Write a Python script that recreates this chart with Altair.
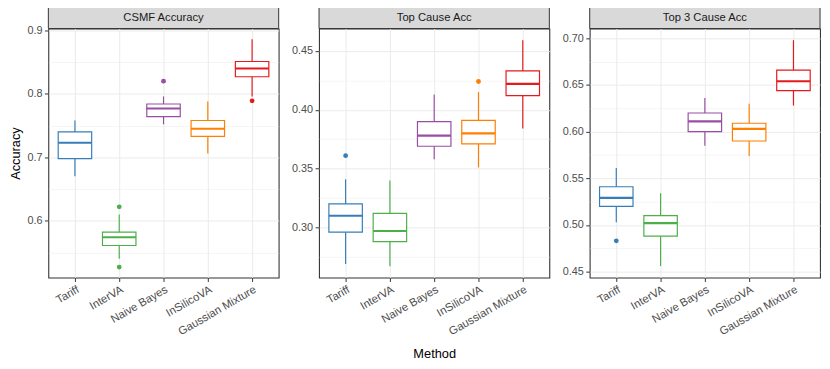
import altair as alt
import pandas as pd

methods = ["Tariff", "InterVA", "Naive Bayes", "InSilicoVA", "Gaussian Mixture"]
colors = ["#377EB8", "#4DAF4A", "#984EA3", "#FF7F00", "#E41A1C"]
panels = ["CSMF Accuracy", "Top Cause Acc", "Top 3 Cause Acc"]

# box statistics per panel, in method order
whisker_low = [
    [0.670, 0.540, 0.752, 0.706, 0.796],
    [0.269, 0.267, 0.358, 0.351, 0.384],
    [0.503, 0.456, 0.585, 0.574, 0.628],
]
q1 = [
    [0.698, 0.561, 0.764, 0.733, 0.827],
    [0.296, 0.288, 0.369, 0.371, 0.412],
    [0.520, 0.488, 0.600, 0.590, 0.644],
]
median = [
    [0.723, 0.574, 0.777, 0.745, 0.840],
    [0.310, 0.297, 0.378, 0.380, 0.422],
    [0.529, 0.502, 0.611, 0.603, 0.654],
]
q3 = [
    [0.740, 0.582, 0.784, 0.758, 0.851],
    [0.320, 0.312, 0.390, 0.391, 0.433],
    [0.541, 0.510, 0.620, 0.609, 0.666],
]
whisker_high = [
    [0.758, 0.610, 0.796, 0.788, 0.886],
    [0.341, 0.340, 0.413, 0.415, 0.459],
    [0.561, 0.534, 0.636, 0.630, 0.698],
]
outlier_method = [
    ["InterVA", "InterVA", "Naive Bayes", "Gaussian Mixture"],
    ["Tariff", "InSilicoVA"],
    ["Tariff"],
]
outlier_value = [
    [0.622, 0.527, 0.820, 0.789],
    [0.361, 0.424],
    [0.483],
]

y_domain = [[0.5105, 0.903], [0.2575, 0.469], [0.4437, 0.7105]]
y_ticks = [
    [0.55, 0.6, 0.65, 0.7, 0.75, 0.8, 0.85, 0.9],
    [0.275, 0.3, 0.325, 0.35, 0.375, 0.4, 0.425, 0.45],
    [0.45, 0.475, 0.5, 0.525, 0.55, 0.575, 0.6, 0.625, 0.65, 0.675, 0.7],
]
y_major_step = [0.1, 0.05, 0.05]
y_format = [".1f", ".2f", ".2f"]

W = 234
H = 253
STRIP = 22
BOX = 34


def panel_chart(i):
    df = pd.DataFrame({
        "Method": methods,
        "lo": whisker_low[i],
        "q1": q1[i],
        "med": median[i],
        "q3": q3[i],
        "hi": whisker_high[i],
    })
    odf = pd.DataFrame({"Method": outlier_method[i], "value": outlier_value[i]})

    step = y_major_step[i]
    is_major = f"abs(datum.value/{step} - round(datum.value/{step})) < 1e-6"
    yaxis = alt.Axis(
        values=y_ticks[i],
        labelExpr=f"({is_major}) ? format(datum.value, '{y_format[i]}') : ''",
        tickOpacity=alt.condition(is_major, alt.value(1), alt.value(0)),
        gridWidth=alt.condition(is_major, alt.value(1.0), alt.value(0.5)),
        title="Accuracy" if i == 0 else None,
        titlePadding=5,
    )
    yscale = alt.Scale(domain=y_domain[i], nice=False, zero=False)

    xaxis = alt.Axis(
        labelAngle=-30,
        labelAlign="right",
        labelBaseline="top",
        labelPadding=2,
        labelFontSize=11.5,
        grid=True,
        title="Method" if i == 1 else None,
        titlePadding=11,
    )
    x = alt.X("Method:N", sort=methods,
              scale=alt.Scale(type="point", padding=0.6, domain=methods),
              axis=xaxis)
    color_scale = alt.Scale(domain=methods, range=colors)

    def Y(field):
        return alt.Y(f"{field}:Q", scale=yscale, axis=yaxis)

    whisk = alt.Chart(df).mark_rule(strokeWidth=1.2).encode(
        x=x, y=Y("lo"), y2="hi:Q",
        color=alt.Color("Method:N", scale=color_scale, legend=None),
    )
    box = alt.Chart(df).mark_bar(size=BOX, fill="white", strokeWidth=1.2).encode(
        x=x, y=Y("q1"), y2="q3:Q",
        stroke=alt.Stroke("Method:N", scale=color_scale, legend=None),
    )
    med = alt.Chart(df).mark_tick(size=BOX, thickness=2.2, orient="horizontal", opacity=1).encode(
        x=x, y=Y("med"),
        color=alt.Color("Method:N", scale=color_scale, legend=None),
    )
    out = alt.Chart(odf).mark_circle(size=24, opacity=1).encode(
        x=x, y=Y("value"),
        color=alt.Color("Method:N", scale=color_scale, legend=None),
    )
    sdf = pd.DataFrame({"panel": [panels[i]]})
    strip_rect = alt.Chart(sdf).mark_rect(fill="#D9D9D9", stroke="#333333", strokeWidth=1).encode(
        x=alt.value(0), x2=alt.value(W), y=alt.value(-STRIP), y2=alt.value(0)
    )
    strip_text = alt.Chart(sdf).mark_text(fontSize=11.4, color="#1A1A1A", font="Liberation Sans",
                                          baseline="middle", align="center").encode(
        x=alt.value(W / 2), y=alt.value(-STRIP / 2), text="panel:N"
    )
    return alt.layer(whisk, box, med, out, strip_rect, strip_text).properties(width=W, height=H)


chart = alt.hconcat(*[panel_chart(i) for i in range(3)], spacing=10).properties(
    padding={"left": 0, "top": -6, "right": 0, "bottom": 0}
).configure_view(
    stroke="#333333", strokeWidth=1.1
).configure_axis(
    domain=False,
    tickColor="#333333",
    tickSize=4,
    labelColor="#4D4D4D",
    labelFont="Liberation Sans",
    labelFontSize=11,
    labelPadding=2.5,
    titleFont="Liberation Sans",
    titleFontSize=13,
    titleFontWeight="normal",
    titleColor="#000000",
    gridColor="#EBEBEB",
).configure_concat(spacing=10)

chart.save("out.html", embed_options={"renderer": "svg", "actions": False})
